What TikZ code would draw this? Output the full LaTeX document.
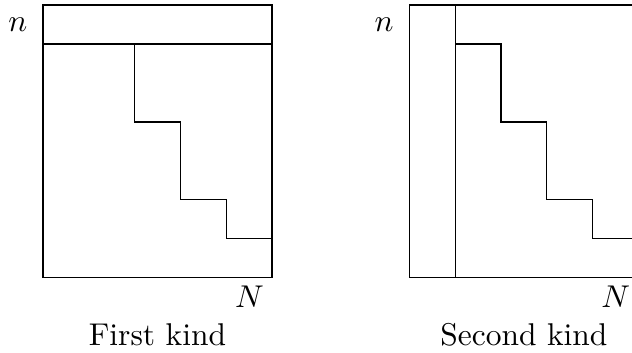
\documentclass[tikz,border=0pt]{standalone}
\usepackage{amsmath}

\begin{document}
\begin{tikzpicture}[x=14.55pt, y=12.38pt]
        \useasboundingbox (-0.939,-1.923) rectangle (12.86,7.128);
        % First kind: top row cut off, staircase below it.
        \draw[black] (0,0) rectangle (5,7);
        \draw[black] (0,6) -- (5,6);
        \draw[black] (2,6) -- (2,4) -- (3,4) -- (3,2) -- (4,2) -- (4,1) -- (5,1);
        % Second kind: first column cut off, staircase beside it.
        \draw[black] (8,0) rectangle (13,7);
        \draw[black] (9,0) -- (9,7);
        \draw[black] (9,6) -- (10,6) -- (10,4) -- (11,4) -- (11,2) -- (12,2) -- (12,1) -- (13,1);
        % Below nodes are the labels.
            \node (n1) [left=1.5pt] at (0,6.5) {$n$};
            \node (N1) [below left, inner sep=2.4pt] at (5,0) {$N$};
            \node (k1) at (2.5,-1.45) {First kind};
            \node (n2) [left=1.5pt] at (8,6.5) {$n$};
            \node (N2) [below left, inner sep=2.4pt] at (13,0) {$N$};
            \node (k2) at (10.5,-1.45) {Second kind};
    \end{tikzpicture}
\end{document}
